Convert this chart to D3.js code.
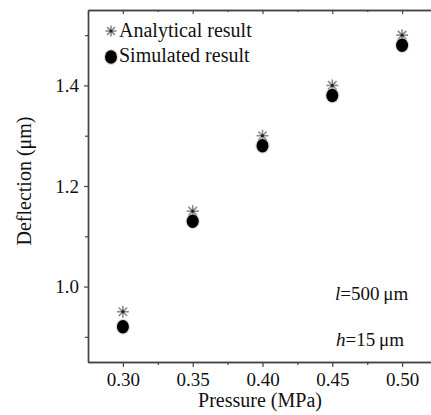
<!DOCTYPE html>
<html>
<head>
<meta charset="utf-8">
<script src="https://cdn.jsdelivr.net/npm/d3@7"></script>
</head>
<body style="margin:0">
<script>
// pressure values (MPa)
const pressure = [0.30, 0.35, 0.40, 0.45, 0.50];
// deflection (um)
const analytical = [0.95, 1.15, 1.30, 1.40, 1.50];
const simulated = [0.92, 1.13, 1.28, 1.38, 1.48];
const xTicks = [0.30, 0.35, 0.40, 0.45, 0.50];
const xMinor = [0.325, 0.375, 0.425, 0.475];
const yTicks = [1.0, 1.2, 1.4];
const yMinor = [0.9, 1.1, 1.3, 1.5];

const width = 431, height = 415;
const margin = {top: 10, left: 88, bottom: 53};
const graphWidth = 349;
const graphHeight = height - margin.top - margin.bottom;

const svg = d3.select("body").append("svg")
    .attr("width", width)
    .attr("height", height)
    .style("display", "block");

const x = d3.scaleLinear().domain([0.275, 0.525]).range([0, graphWidth]);
const y = d3.scaleLinear().domain([0.85, 1.55]).range([graphHeight, 0]);

const g = svg.append("g")
    .attr("transform", `translate(${margin.left},${margin.top})`);

const axisColor = "#444";

function styleAxis(sel) {
  sel.attr("font-family", null);
  sel.select(".domain").attr("stroke", axisColor).attr("stroke-width", 1.4);
  sel.selectAll(".tick line").attr("stroke", axisColor).attr("stroke-width", 1.2);
  sel.selectAll(".tick text")
     .attr("font-size", 19)
     .attr("fill", "#222");
}

// bottom axis
g.append("g")
    .attr("transform", `translate(0,${graphHeight})`)
    .call(d3.axisBottom(x).tickValues(xTicks).tickFormat(d3.format(".2f"))
          .tickSize(5).tickSizeOuter(0).tickPadding(6))
    .call(styleAxis);
g.append("g")
    .attr("transform", `translate(0,${graphHeight})`)
    .call(d3.axisBottom(x).tickValues(xMinor).tickFormat("").tickSize(3).tickSizeOuter(0))
    .call(styleAxis);

// top border with inward ticks
g.append("g")
    .call(d3.axisBottom(x).tickValues(xTicks).tickFormat("").tickSize(4).tickSizeOuter(0))
    .call(styleAxis);
g.append("g")
    .call(d3.axisBottom(x).tickValues(xMinor).tickFormat("").tickSize(2).tickSizeOuter(0))
    .call(styleAxis);

// left axis
g.append("g")
    .call(d3.axisLeft(y).tickValues(yTicks).tickFormat(d3.format(".1f"))
          .tickSize(4).tickSizeOuter(0).tickPadding(5))
    .call(styleAxis);
g.append("g")
    .call(d3.axisLeft(y).tickValues(yMinor).tickFormat("").tickSize(3).tickSizeOuter(0))
    .call(styleAxis);

// right border (just outside the picture)
g.append("g")
    .attr("transform", `translate(${graphWidth},0)`)
    .call(d3.axisRight(y).tickValues(yTicks).tickFormat("").tickSize(-4).tickSizeOuter(0))
    .call(styleAxis);

// axis titles
svg.append("text")
    .attr("x", 260)
    .attr("y", 407)
    .attr("text-anchor", "middle")
    .attr("font-size", 20)
    .text("Pressure (MPa)");

svg.append("text")
    .attr("transform", "translate(31,181) rotate(-90)")
    .attr("text-anchor", "middle")
    .attr("font-size", 20)
    .text("Deflection (μm)");

// asterisk marker
function star(sel, cx, cy, r) {
  const s = sel.append("g").attr("transform", `translate(${cx},${cy})`);
  [0, 45, 90, 135].forEach(a => {
    const rad = a * Math.PI / 180;
    s.append("line")
      .attr("x1", -r * Math.cos(rad)).attr("y1", -r * Math.sin(rad))
      .attr("x2", r * Math.cos(rad)).attr("y2", r * Math.sin(rad))
      .attr("stroke", "#8a8a8a")
      .attr("stroke-width", 1.6);
  });
  s.append("circle").attr("r", 1.6).attr("fill", "#222");
}

function blob(sel, cx, cy) {
  sel.append("ellipse")
    .attr("cx", cx).attr("cy", cy)
    .attr("rx", 7.2).attr("ry", 8)
    .attr("fill", "#bbb")
    .attr("opacity", 0.5);
  sel.append("ellipse")
    .attr("cx", cx).attr("cy", cy)
    .attr("rx", 6).attr("ry", 6.8)
    .attr("fill", "#000");
}

const marks = g.append("g");
pressure.forEach((p, i) => {
  star(marks, x(p), y(analytical[i]), 6);
  blob(marks, x(p), y(simulated[i]));
});

// legend
const legend = svg.append("g");
star(legend, 111, 31, 5.5);
blob(legend, 111, 57);
legend.append("text").attr("x", 119).attr("y", 37).attr("font-size", 20).text("Analytical result");
legend.append("text").attr("x", 119).attr("y", 62).attr("font-size", 20).text("Simulated result");

// parameters
const note1 = svg.append("text").attr("x", 335).attr("y", 300).attr("font-size", 19);
note1.append("tspan").attr("font-style", "italic").text("l");
note1.append("tspan").text("=500\u2009μm");
const note2 = svg.append("text").attr("x", 336).attr("y", 346).attr("font-size", 19);
note2.append("tspan").attr("font-style", "italic").text("h");
note2.append("tspan").text("=15\u2009μm");

// serif everywhere
svg.selectAll("text")
    .attr("font-family", "Liberation Serif")
    .style("font-family", "'Liberation Serif'")
    .style("fill", "#111");
</script>
</body>
</html>
